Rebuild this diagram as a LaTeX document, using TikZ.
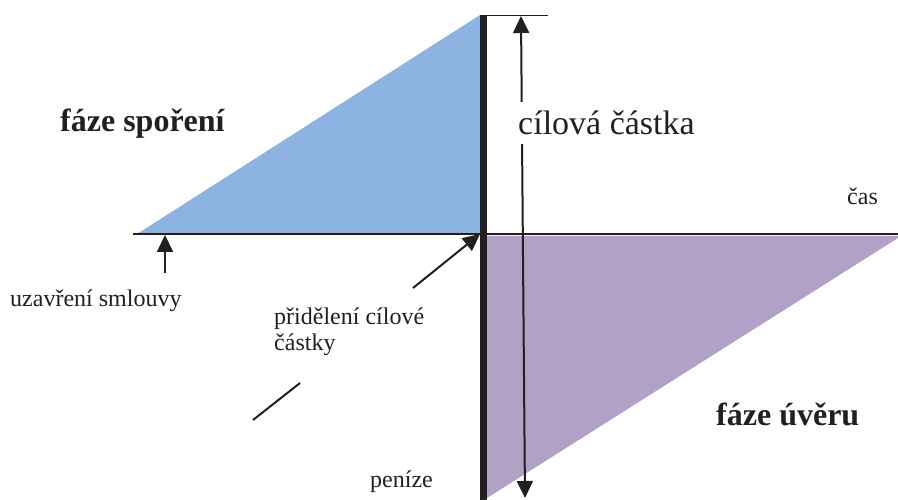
\documentclass[tikz,border=0pt]{standalone}
\usepackage{fontspec}
\setmainfont{Liberation Serif}
\usetikzlibrary{arrows.meta}
\definecolor{saving}{RGB}{141,179,226}
\definecolor{loan}{RGB}{178,161,199}
\definecolor{inkgray}{RGB}{35,31,32}

\tikzset{
  smalltext/.style={font=\fontsize{24bp}{26bp}\selectfont, inner sep=0pt, anchor=base west, align=left},
  phasetext/.style={font=\fontsize{32bp}{34bp}\selectfont\bfseries, inner sep=0pt, anchor=base west},
  pointer/.style={line width=2bp, inkgray, -{Triangle[length=17bp,width=16bp]}},
}

\begin{document}
\begin{tikzpicture}[x=1bp, y=-1bp]
  \useasboundingbox (0,0) rectangle (898,500);

  % Phases
  \fill[saving] (137,234) -- (480,15) -- (480,234) -- cycle;
  \fill[loan] (487,236) -- (898,236) -- (898,238) -- (487,498) -- cycle;

  % Time axis
  \draw[line width=2bp, inkgray] (133,234.5) -- (898,234.5);

  % Money axis
  \draw[line width=7.5bp, inkgray] (483.5,15) -- (483.5,500);
  \draw[line width=1.5bp, inkgray] (483,15.5) -- (548,15.5);

  % Target amount
  \coordinate (amounttop) at (521,16);
  \coordinate (amountbottom) at (525,498);
  \draw[line width=2bp, inkgray, {Triangle[length=17bp,width=16bp]}-{Triangle[length=17bp,width=16bp]}] (amounttop) -- (amountbottom);
  \node[smalltext, font=\fontsize{34bp}{36bp}\selectfont, text=inkgray, fill=white, inner xsep=2bp, inner ysep=9bp] (amount) at (516,135) {cílová částka};

  % Labels
  \node[phasetext, text=inkgray] (saving) at (60,132) {fáze spoření};
  \node[phasetext, text=inkgray] (loan) at (716,425) {fáze úvěru};
  \node[smalltext, text=inkgray] (time) at (847,205) {čas};
  \node[smalltext, text=inkgray] (money) at (370,487) {peníze};
  \node[smalltext, text=inkgray] (contract) at (10,307) {uzavření smlouvy};
  \node[smalltext, text=inkgray] (allot) at (274,351) {přidělení cílové\\částky};

  % Pointers
  \coordinate (contracttail) at (165,273);
  \coordinate (contracttip) at (165,235);
  \draw[pointer] (contracttail) -- (contracttip);
  \coordinate (allottail) at (413,288);
  \coordinate (allottip) at (480,234);
  \draw[pointer] (allottail) -- (allottip);
  \coordinate (strokea) at (253,420);
  \coordinate (strokeb) at (300,383);
  \draw[line width=2bp, inkgray] (strokea) -- (strokeb);
\end{tikzpicture}
\end{document}
